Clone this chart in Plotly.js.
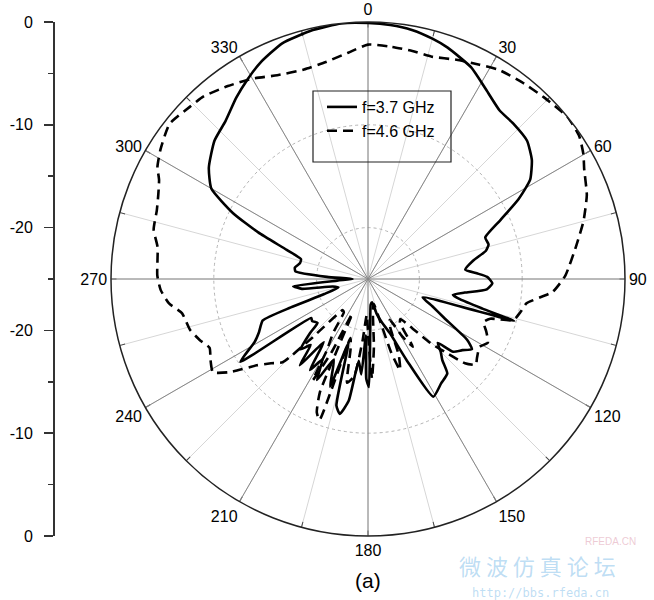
<!DOCTYPE html>
<html>
<head>
<meta charset="utf-8">
<script src="https://cdn.plot.ly/plotly-3.0.1.min.js"></script>
<style>html,body{margin:0;padding:0;background:#fff;}</style>
</head>
<body>
<div id="chart" style="width:654px;height:600px;"></div>
<script>
// ---- data (angle in degrees, gain in dB) ----
const series1Name = "f=3.7 GHz";
const series1Theta = [0,5,10,15,19,26,32,38,43,49,54,58.5,62,66,70.5,74,76.5,80,84.5,87,89,92,95,98,100.5,102.5,104.5,106,108.5,113,117,121.5,124,127,130.5,132.5,135,137.5,140,145,151,154.5,158,162,166,170,174,177.5,179.5,181,182.2,184,186.5,189,191.8,194,197,199.4,203,206.8,209.5,212.5,215,218.3,221,223.8,227,229,233,235.5,237,241,244,248.5,249.8,251,254,258,261.5,264.5,267,270,273,276,279,283,286.5,289.7,293,296,300,305,312,318,324,329,333.5,340,347.5,354,360];
const series1R = [-0.1,-0.2,-0.4,-0.8,-1.2,-2.1,-3.3,-4.2,-4.3,-4.5,-5.3,-6.5,-8.4,-10.9,-12.9,-12.8,-13.2,-14.6,-15.5,-14.4,-13.4,-12.9,-13.4,-15.5,-16.6,-15.8,-13.5,-10.2,-19.4,-18.2,-16.7,-13.7,-12.8,-13.5,-14.1,-15.8,-15,-14.3,-13.0,-12.6,-11.9,-16.2,-19.3,-20.5,-21.5,-22.7,-22.5,-20,-14.5,-15.3,-19.5,-15.7,-17,-13,-11.6,-12.3,-18.5,-13.9,-16.5,-14.0,-16,-14.5,-17.5,-14.3,-16.5,-15.5,-17.3,-18.5,-18.2,-18.3,-10.2,-12.4,-13.2,-14.0,-17,-20.5,-22,-21.5,-18.5,-17.7,-22,-23.5,-21,-17.9,-17.8,-18.2,-18.2,-16.6,-13.4,-10.4,-7.4,-6.1,-4.9,-4.3,-3.2,-2.3,-1.5,-0.6,-0.2,0,-0.1];

const series2Name = "f=4.6 GHz";
const series2Theta = [0,6,11,16,22,27.5,32,38,44,51,56,60,63,69,75,81,89,94,98.7,102,105.8,108,110.5,114,118,121.3,126,128.5,131,133.5,135.5,138,141,144,146.5,149,152,155.4,158,160.6,162.5,164,167,171,175,177.7,179.5,182,185,188,191.4,194,196.5,199,201,203,204.5,206.5,208.6,210,213,216,219,223.5,225.7,229,232.2,236,239,243,246.5,250,254,259.6,263,267,271,278.6,283,288,292,295.4,298,302,308,314,318,324,330,336,343,349,355,360];
const series2R = [-2.2,-2.3,-2.4,-2.5,-2.0,-1.5,-1.0,-0.7,-0.4,0,-0.2,-0.8,-1.4,-2.2,-3.3,-4.5,-5.8,-7.0,-9.4,-9.8,-10.3,-12.5,-13.0,-12.4,-11.8,-12.3,-11.9,-11.6,-12.5,-14.7,-16.1,-18.5,-20,-19.7,-17.1,-18.4,-20.5,-19.8,-17.0,-15.6,-17.5,-20.8,-22.5,-22,-18.4,-15.3,-19,-21.5,-19,-15.5,-14.7,-18,-19,-10.5,-11.1,-13,-21.3,-17,-13.8,-17,-18.8,-21,-21.1,-17.2,-13.4,-12.5,-11.3,-8.8,-7.4,-7.8,-8.2,-7.6,-7.0,-6.6,-5.5,-4.8,-4.5,-4.3,-3.6,-3.4,-3,-2.5,-1.8,-1.2,-0.5,-0.9,-1.1,-1.8,-2.5,-3.3,-3.7,-3.5,-2.9,-2.2];

const angleTickVals = [0,30,60,90,120,150,180,210,240,270,300,330];
const angleTickText = ["0","30","60","90","120","150","180","210","240","270","300","330"];
const radialRange = [-25, 0];
const radialGridVals = [-20, -10];

// left scale: position (-25..25) mirrored about centre
const leftTickVals = [25, 15, 5, -5, -15, -25];
const leftTickText = ["0", "-10", "-20", "-20", "-10", "0"];

const FONT = "Liberation Sans, Arial, Helvetica, sans-serif";
const dom = {x: [111/654, 625/654], y: [64/600, 578/600]};

const traces = [
  // empty trace so that the background polar subplot (minor grid) is drawn
  {type: 'scatterpolar', subplot: 'polar', r: [], theta: [], showlegend: false, hoverinfo: 'skip'},
  {type: 'scatterpolar', subplot: 'polar2', name: series1Name, theta: series1Theta, r: series1R,
   mode: 'lines', line: {color: '#000', width: 2.6, shape: 'spline', smoothing: 0.5}},
  {type: 'scatterpolar', subplot: 'polar2', name: series2Name, theta: series2Theta, r: series2R,
   mode: 'lines', line: {color: '#000', width: 2.6, dash: '10px,6px', shape: 'spline', smoothing: 0.5}},
  {type: 'scatter', x: [], y: [], xaxis: 'x', yaxis: 'y', showlegend: false, hoverinfo: 'skip'}
];

const layout = {
  width: 654, height: 600,
  margin: {l: 0, r: 0, t: 0, b: 0},
  paper_bgcolor: '#fff',
  font: {family: FONT, color: '#000', size: 16},
  showlegend: true,
  legend: {x: 322/654, y: 1 - 90/600, xanchor: 'left', yanchor: 'top',
           bgcolor: 'rgba(0,0,0,0)', borderwidth: 0, font: {size: 16, family: FONT},
           tracegroupgap: 0},
  polar: {
    domain: dom, bgcolor: '#fff',
    angularaxis: {rotation: 90, direction: 'clockwise', tickmode: 'linear', tick0: 0, dtick: 15,
                  showticklabels: false, ticks: 'inside', ticklen: 5, tickcolor: '#444',
                  gridcolor: '#d6d6d6', gridwidth: 1, showline: false},
    radialaxis: {range: radialRange, tickmode: 'array', tickvals: radialGridVals, showticklabels: false, ticks: '',
                 showline: false, gridcolor: '#b4b4b4', griddash: 'dot', gridwidth: 1}
  },
  polar2: {
    domain: dom, bgcolor: 'rgba(0,0,0,0)',
    angularaxis: {rotation: 90, direction: 'clockwise', tickmode: 'array', tickvals: angleTickVals,
                  ticktext: angleTickText, tickfont: {size: 16, family: FONT, color: '#000'}, ticks: '',
                  gridcolor: '#888888', gridwidth: 1, showline: true, linecolor: '#222', linewidth: 1.5},
    radialaxis: {range: radialRange, showgrid: false, showticklabels: false, ticks: '', showline: false}
  },
  xaxis: {domain: [0.081, 0.09], visible: false, range: [0, 1], fixedrange: true},
  yaxis: {domain: [64/600, 578/600], range: [-25, 25], anchor: 'free', position: 53/654, side: 'left',
          tickmode: 'array', tickvals: leftTickVals, ticktext: leftTickText,
          ticks: 'outside', ticklen: 9, tickwidth: 1.5, tickcolor: '#333',
          showline: true, linecolor: '#333', linewidth: 1.5, showgrid: false, zeroline: false,
          tickfont: {size: 16, family: FONT, color: '#000'}, ticklabelstandoff: 8,
          minor: {tick0: 0, dtick: 5, ticks: 'outside', ticklen: 5, tickwidth: 1.5, tickcolor: '#333', showgrid: false}},
  shapes: [
    {type: 'rect', xref: 'paper', yref: 'paper', x0: 313/654, x1: 451/654, y0: 1 - 162/600, y1: 1 - 91/600,
     line: {color: '#222', width: 1.2}, fillcolor: 'rgba(0,0,0,0)'}
  ],
  annotations: [
    {text: '(a)', xref: 'paper', yref: 'paper', x: 368/654, y: 1 - 580/600, showarrow: false,
     font: {size: 21, family: FONT, color: '#000'}, xanchor: 'center', yanchor: 'middle'},
    {text: '微 波 仿 真 论 坛', xref: 'paper', yref: 'paper', x: 537/654, y: 1 - 565/600, showarrow: false,
     font: {size: 22, family: 'Noto Sans CJK SC', color: 'rgba(110,180,230,0.45)'}, xanchor: 'center', yanchor: 'middle'},
    {text: 'http://bbs.rfeda.cn', xref: 'paper', yref: 'paper', x: 540/654, y: 1 - 593/600, showarrow: false,
     font: {size: 12, family: 'DejaVu Sans Mono', color: 'rgba(110,180,230,0.45)'}, xanchor: 'center', yanchor: 'middle'},
    {text: 'RFEDA.CN', xref: 'paper', yref: 'paper', x: 610/654, y: 1 - 541/600, showarrow: false,
     font: {size: 10, family: FONT, color: 'rgba(220,150,170,0.5)'}, xanchor: 'center', yanchor: 'middle'}
  ]
};

Plotly.newPlot('chart', traces, layout, {staticPlot: true, displayModeBar: false});
</script>
</body>
</html>
